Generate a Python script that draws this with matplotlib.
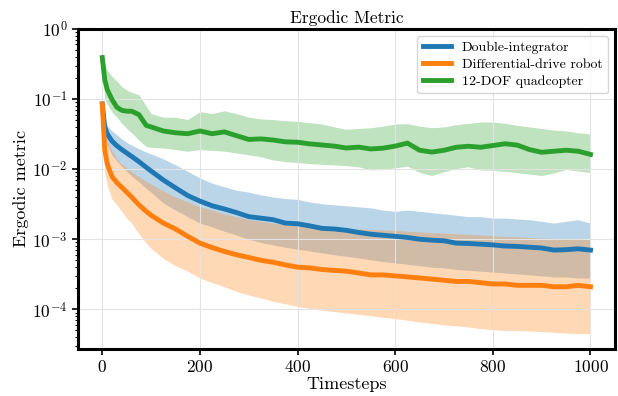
import matplotlib
matplotlib.use("Agg")
import matplotlib.pyplot as plt
import numpy as np

plt.rcParams['font.family'] = 'serif'
plt.rcParams['font.serif'] = ['cmr10']
plt.rcParams['mathtext.fontset'] = 'cm'
plt.rcParams['axes.formatter.use_mathtext'] = True
plt.rcParams['axes.unicode_minus'] = False

steps = [0, 5, 10, 20, 30, 40, 50, 60, 75, 90, 100,
         125, 150, 175, 200, 225, 250, 275, 300, 325, 350, 375, 400,
         425, 450, 475, 500, 525, 550, 575, 600, 625, 650, 675, 700,
         725, 750, 775, 800, 825, 850, 875, 900, 925, 950, 975, 1000]

# Double-integrator
di_mean = [0.085, 0.040, 0.032, 0.025, 0.0215, 0.019, 0.017, 0.0152, 0.0128, 0.0106, 0.0094,
           0.0070, 0.0054, 0.0042, 0.0035, 0.0030, 0.0027, 0.0024, 0.0021, 0.0020, 0.0019, 0.0017, 0.00166,
           0.00155, 0.00143, 0.0014, 0.00134, 0.00125, 0.00118, 0.00114, 0.0011, 0.00106, 0.0010, 0.00097, 0.00095,
           0.00088, 0.00087, 0.00085, 0.00083, 0.0008, 0.00079, 0.00077, 0.00075, 0.0007, 0.00071, 0.00073, 0.0007]
di_upper = [0.085, 0.05, 0.042, 0.035, 0.031, 0.027, 0.024, 0.022, 0.0195, 0.0175, 0.0165,
            0.014, 0.0115, 0.0093, 0.0075, 0.0063, 0.0056, 0.0050, 0.0047, 0.0043, 0.0040, 0.0038, 0.0037,
            0.0034, 0.0032, 0.0031, 0.0030, 0.0029, 0.0028, 0.0026, 0.0025, 0.0026, 0.0025, 0.0024, 0.0023,
            0.0022, 0.0021, 0.0021, 0.0020, 0.0020, 0.00195, 0.0019, 0.0018, 0.0017, 0.0018, 0.0019, 0.0017]
di_lower = [0.085, 0.028, 0.022, 0.016, 0.013, 0.011, 0.0093, 0.008, 0.0066, 0.0053, 0.0047,
            0.0033, 0.0026, 0.0021, 0.0017, 0.0015, 0.0013, 0.00115, 0.001, 0.0009, 0.00083, 0.00077, 0.00072,
            0.00068, 0.00064, 0.0006, 0.00057, 0.00054, 0.00051, 0.00048, 0.00046, 0.00044, 0.00042, 0.0004, 0.00039,
            0.00037, 0.00036, 0.00035, 0.00034, 0.00033, 0.00032, 0.00031, 0.0003, 0.00029, 0.00029, 0.00028, 0.00028]

# Differential-drive robot
dd_mean = [0.085, 0.019, 0.012, 0.0078, 0.0064, 0.0055, 0.0047, 0.0040, 0.0031, 0.0025, 0.0022,
           0.0017, 0.0014, 0.0011, 0.00088, 0.00076, 0.00067, 0.0006, 0.00055, 0.0005, 0.00047, 0.00043, 0.0004,
           0.00039, 0.00037, 0.00036, 0.00035, 0.00033, 0.00031, 0.00031, 0.0003, 0.00029, 0.00028, 0.00027, 0.00026,
           0.00025, 0.00025, 0.00024, 0.00023, 0.00023, 0.00022, 0.00022, 0.00022, 0.00021, 0.00021, 0.00022, 0.00021]
dd_upper = [0.085, 0.035, 0.025, 0.018, 0.014, 0.0118, 0.0105, 0.0092, 0.0078, 0.0067, 0.0061,
            0.0049, 0.0040, 0.0034, 0.0029, 0.0026, 0.0023, 0.0021, 0.0019, 0.0018, 0.0017, 0.0016, 0.00155,
            0.0015, 0.00148, 0.00145, 0.00143, 0.0014, 0.00138, 0.00136, 0.00134, 0.0013, 0.00127, 0.00124, 0.00122,
            0.0012, 0.00117, 0.00115, 0.00112, 0.0011, 0.00108, 0.00106, 0.00104, 0.00102, 0.00101, 0.001, 0.00099]
dd_lower = [0.085, 0.009, 0.006, 0.0037, 0.0031, 0.0025, 0.0020, 0.0017, 0.0012, 0.00088, 0.00074,
            0.00053, 0.00042, 0.00035, 0.00028, 0.00024, 0.00021, 0.00018, 0.00016, 0.000145, 0.00013, 0.00012, 0.00011,
            0.000103, 0.000097, 0.000093, 0.000089, 0.000085, 0.000081, 0.000077, 0.000074, 0.00007, 0.000066, 0.000063, 0.00006,
            0.000058, 0.000056, 0.000053, 0.000051, 0.00005, 0.00005, 0.000049, 0.000048, 0.000047, 0.000046, 0.000045, 0.000045]

# 12-DOF quadcopter
qc_mean = [0.39, 0.19, 0.137, 0.098, 0.076, 0.069, 0.067, 0.067, 0.060, 0.042, 0.040,
           0.035, 0.033, 0.032, 0.035, 0.032, 0.034, 0.030, 0.0265, 0.027, 0.026, 0.0245, 0.0242,
           0.0229, 0.0221, 0.0213, 0.020, 0.0206, 0.0194, 0.0199, 0.0213, 0.0235, 0.0186, 0.0175, 0.0186,
           0.0205, 0.0212, 0.0205, 0.0217, 0.023, 0.022, 0.019, 0.0174, 0.018, 0.0186, 0.018, 0.0162]
qc_upper = [0.39, 0.31, 0.26, 0.21, 0.18, 0.15, 0.135, 0.125, 0.115, 0.079, 0.062,
            0.055, 0.055, 0.051, 0.066, 0.062, 0.068, 0.062, 0.055, 0.052, 0.051, 0.049, 0.048,
            0.046, 0.044, 0.040, 0.037, 0.038, 0.039, 0.041, 0.044, 0.0445, 0.041, 0.039, 0.040,
            0.043, 0.045, 0.047, 0.047, 0.045, 0.042, 0.040, 0.038, 0.036, 0.035, 0.033, 0.0317]
qc_lower = [0.39, 0.098, 0.085, 0.065, 0.055, 0.045, 0.038, 0.033, 0.026, 0.021, 0.0205,
            0.020, 0.019, 0.018, 0.019, 0.0185, 0.018, 0.017, 0.016, 0.015, 0.0135, 0.0128, 0.0124,
            0.012, 0.0117, 0.0115, 0.0112, 0.0108, 0.0097, 0.0100, 0.0104, 0.011, 0.009, 0.0081, 0.0092,
            0.0102, 0.0108, 0.0097, 0.0096, 0.0093, 0.0089, 0.0085, 0.0081, 0.0088, 0.0099, 0.0094, 0.0089]

labels = ['Double-integrator', 'Differential-drive robot', '12-DOF quadcopter']
colors = ['#1f77b4', '#ff7f0e', '#2ca02c']
means = [di_mean, dd_mean, qc_mean]
uppers = [di_upper, dd_upper, qc_upper]
lowers = [di_lower, dd_lower, qc_lower]

fig = plt.figure(figsize=(6.18, 3.96), dpi=100)
ax = fig.add_axes([0.126, 0.119, 0.869, 0.808])

t = np.array(steps)
for u, l, c in zip(uppers, lowers, colors):
    ax.fill_between(t, l, u, color=c, alpha=0.3, linewidth=0)
for m, c, lab in zip(means, colors, labels):
    ax.plot(t, m, color=c, linewidth=3.5, label=lab)

ax.set_yscale('log')
ax.set_ylim(2.73e-5, 1)
ax.set_xlim(-50, 1050)
ax.set_xticks([0, 200, 400, 600, 800, 1000])

ax.grid(True, which='major', color='#e3e3e3', linewidth=0.8)
for s in ax.spines.values():
    s.set_linewidth(2.2)
ax.tick_params(axis='both', which='major', labelsize=12.5, width=1.2, length=4)
ax.tick_params(axis='y', which='minor', width=0.8, length=2)

ax.set_title('Ergodic Metric', fontsize=12.5, pad=4)
ax.set_xlabel('Timesteps', fontsize=13, labelpad=1)
ax.set_ylabel('Ergodic metric', fontsize=13, labelpad=2)

ax.legend(loc='upper right', fontsize=10, handlelength=2.0, framealpha=0.8,
          borderpad=0.4, labelspacing=0.3)

fig.savefig('out.png', dpi=100, facecolor='white')
